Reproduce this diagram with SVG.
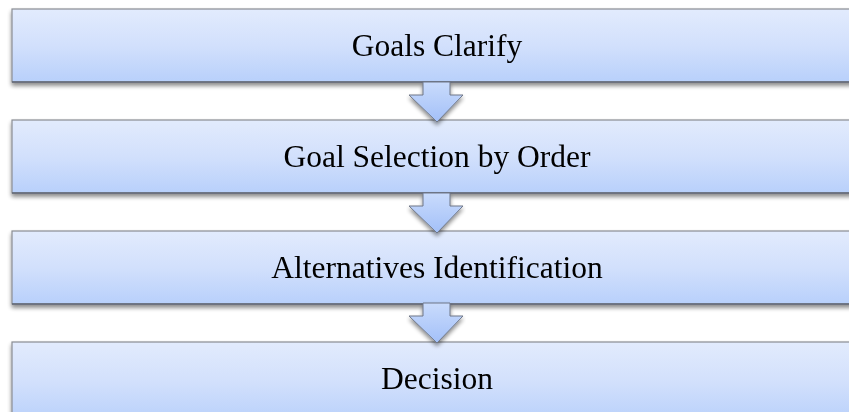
<svg xmlns="http://www.w3.org/2000/svg" width="849" height="412" viewBox="0 0 849 412">
  <defs>
    <linearGradient id="boxFill" x1="0" y1="0" x2="0" y2="1">
      <stop offset="0" stop-color="#e2ebfd"/>
      <stop offset="0.5" stop-color="#d2e0fc"/>
      <stop offset="1" stop-color="#b8d0fb"/>
    </linearGradient>
    <linearGradient id="arrowFill" x1="0" y1="0" x2="0" y2="1">
      <stop offset="0" stop-color="#c9dbfc"/>
      <stop offset="1" stop-color="#a3c0f8"/>
    </linearGradient>
    <filter id="shadow" x="-5%" y="-20%" width="110%" height="150%">
      <feGaussianBlur in="SourceAlpha" stdDeviation="2.2"/>
      <feOffset dx="0" dy="3" result="b"/>
      <feComponentTransfer><feFuncA type="linear" slope="0.45"/></feComponentTransfer>
      <feMerge><feMergeNode/><feMergeNode in="SourceGraphic"/></feMerge>
    </filter>
    <path id="downArrow" d="M423,82 H450 V95 H463 L437,122 L409,95 H423 Z"/>
  </defs>
  <style>
    .box { fill: url(#boxFill); stroke: #8a8d93; stroke-width: 1.2; }
    .edge { stroke: #5f6675; stroke-width: 1.4; }
    .arrow { fill: url(#arrowFill); stroke: #6f7787; stroke-width: 1; stroke-linejoin: miter; }
    .label { font-family: "Liberation Serif", "Times New Roman", serif; font-size: 31.5px; fill: #000; text-anchor: middle; }
  </style>

  <g id="node-goals-clarify" filter="url(#shadow)">
    <rect class="box" x="12" y="9" width="850" height="73"/>
    <line class="edge" x1="12" y1="82" x2="862" y2="82"/>
    <text class="label" x="437" y="56">Goals Clarify</text>
  </g>
  <g id="node-goal-selection" filter="url(#shadow)">
    <rect class="box" x="12" y="120" width="850" height="73"/>
    <line class="edge" x1="12" y1="193" x2="862" y2="193"/>
    <text class="label" x="437" y="167">Goal Selection by Order</text>
  </g>
  <g id="node-alternatives" filter="url(#shadow)">
    <rect class="box" x="12" y="231" width="850" height="73"/>
    <line class="edge" x1="12" y1="304" x2="862" y2="304"/>
    <text class="label" x="437" y="278">Alternatives Identification</text>
  </g>
  <g id="node-decision" filter="url(#shadow)">
    <rect class="box" x="12" y="342" width="850" height="80"/>
    <text class="label" x="437" y="389">Decision</text>
  </g>

  <g id="connectors" filter="url(#shadow)">
    <use href="#downArrow" class="arrow"/>
    <use href="#downArrow" class="arrow" transform="translate(0,111)"/>
    <use href="#downArrow" class="arrow" transform="translate(0,221)"/>
  </g>
</svg>
